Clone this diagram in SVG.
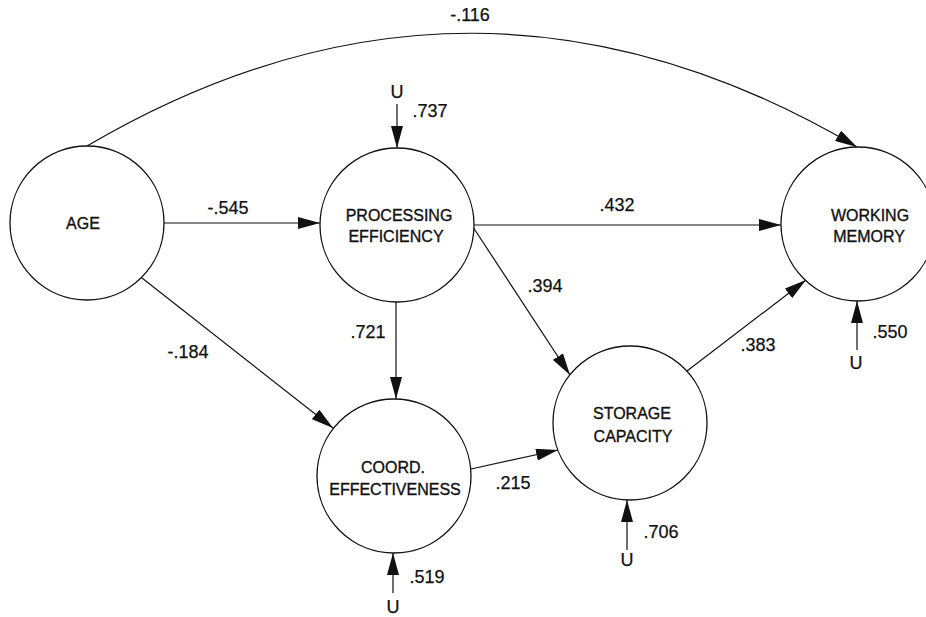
<svg xmlns="http://www.w3.org/2000/svg" width="926" height="617" viewBox="0 0 926 617">
<defs>
<style>
.node{fill:#fff;stroke:#111;stroke-width:1.3}
.edge{fill:none;stroke:#111;stroke-width:1.2;marker-end:url(#ah)}
.nl{font-family:"Liberation Sans",Arial,sans-serif;font-size:16px;fill:#111;text-anchor:middle;stroke:#111;stroke-width:0.35}
.el{font-family:"Liberation Sans",Arial,sans-serif;font-size:18px;fill:#111;text-anchor:middle;stroke:#111;stroke-width:0.25}
</style>
<marker id="ah" markerUnits="userSpaceOnUse" markerWidth="22" markerHeight="12" refX="22" refY="6" orient="auto" viewBox="0 0 22 12">
<path d="M0,0 L22,6 L0,12 Z" fill="#111"/>
</marker>
</defs>
<rect width="926" height="617" fill="#fff"/>
<g id="connectors">
<path class="edge" d="M87,146 Q472,-80 857,147"/>
<line class="edge" x1="164" y1="223" x2="320" y2="223"/>
<line class="edge" x1="142" y1="278" x2="333" y2="428"/>
<line class="edge" x1="396" y1="302" x2="396" y2="399"/>
<line class="edge" x1="474" y1="225" x2="781" y2="225"/>
<line class="edge" x1="473" y1="227" x2="570" y2="375"/>
<line class="edge" x1="471" y1="469" x2="558" y2="450"/>
<line class="edge" x1="687" y1="371" x2="806" y2="280"/>
<line class="edge" x1="397" y1="104" x2="397" y2="148"/>
<line class="edge" x1="857" y1="350" x2="857" y2="301"/>
<line class="edge" x1="393" y1="593" x2="393" y2="553"/>
<line class="edge" x1="627" y1="550" x2="627" y2="500"/>
</g>
<g id="edge-labels">
<text class="el" x="470" y="21">-.116</text>
<text class="el" x="228" y="214">-.545</text>
<text class="el" x="188" y="358">-.184</text>
<text class="el" x="368" y="338">.721</text>
<text class="el" x="617" y="211">.432</text>
<text class="el" x="545" y="292">.394</text>
<text class="el" x="513" y="489">.215</text>
<text class="el" x="758" y="351">.383</text>
<text class="el" x="397" y="98">U</text>
<text class="el" x="430" y="117">.737</text>
<text class="el" x="856" y="369">U</text>
<text class="el" x="890" y="338">.550</text>
<text class="el" x="393" y="613">U</text>
<text class="el" x="427" y="583">.519</text>
<text class="el" x="627" y="566">U</text>
<text class="el" x="661" y="538">.706</text>
</g>
<g id="age">
<circle class="node" cx="87" cy="223" r="77"/>
<text class="nl" x="83" y="229">AGE</text>
</g>
<g id="processing-efficiency">
<circle class="node" cx="397" cy="225" r="77"/>
<text class="nl" x="399" y="221">PROCESSING</text>
<text class="nl" x="396" y="242">EFFICIENCY</text>
</g>
<g id="working-memory">
<circle class="node" cx="858" cy="224" r="77"/>
<text class="nl" x="870" y="221">WORKING</text>
<text class="nl" x="869" y="242">MEMORY</text>
</g>
<g id="coord-effectiveness">
<circle class="node" cx="394" cy="476" r="77"/>
<text class="nl" x="393" y="473">COORD.</text>
<text class="nl" x="395" y="495">EFFECTIVENESS</text>
</g>
<g id="storage-capacity">
<circle class="node" cx="630" cy="423" r="77"/>
<text class="nl" x="632" y="419">STORAGE</text>
<text class="nl" x="633" y="442">CAPACITY</text>
</g>
</svg>
